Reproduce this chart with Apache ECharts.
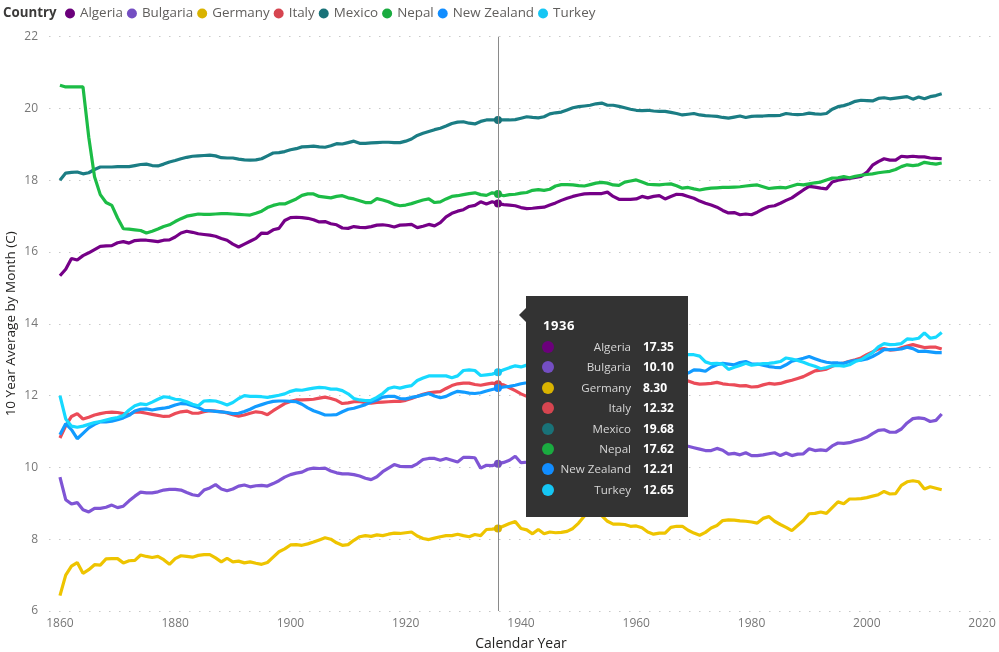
<!DOCTYPE html>
<html>
<head>
<meta charset="utf-8">
<script src="https://cdn.jsdelivr.net/npm/echarts@6/dist/echarts.min.js"></script>
<style>
html,body{margin:0;padding:0;background:#fff;}
#chart{width:999px;height:652px;}
</style>
</head>
<body>
<div id="chart"></div>
<script>
const firstYear = 1860;
const countries = ["Algeria","Bulgaria","Germany","Italy","Mexico","Nepal","New Zealand","Turkey"];
const colors = ["#6B007B","#744EC2","#D9B300","#D64550","#197278","#1AAB40","#118DFF","#15C6F4"];
const xTicks = [1860,1880,1900,1920,1940,1960,1980,2000,2020];
const highlightYear = 1936;

const algeria = [
15.34,15.52,15.82,15.78,15.90,15.98,16.07,16.16,16.17,16.18,
16.26,16.29,16.25,16.32,16.33,16.33,16.31,16.29,16.33,16.34,
16.42,16.53,16.58,16.55,16.51,16.49,16.47,16.44,16.38,16.33,
16.22,16.14,16.22,16.30,16.38,16.53,16.52,16.62,16.66,16.88,
16.96,16.97,16.96,16.94,16.90,16.84,16.85,16.79,16.76,16.67,
16.66,16.71,16.69,16.68,16.71,16.75,16.76,16.74,16.70,16.75,
16.76,16.77,16.68,16.72,16.77,16.73,16.82,16.98,17.08,17.14,
17.18,17.27,17.30,17.40,17.34,17.40,17.35,17.32,17.31,17.29,
17.24,17.21,17.22,17.24,17.25,17.31,17.37,17.44,17.50,17.55,
17.59,17.62,17.63,17.63,17.63,17.67,17.55,17.47,17.47,17.47,
17.48,17.55,17.51,17.55,17.57,17.48,17.55,17.61,17.60,17.55,
17.50,17.42,17.36,17.31,17.25,17.16,17.09,17.10,17.04,17.06,
17.04,17.11,17.20,17.27,17.29,17.36,17.44,17.51,17.62,17.73,
17.83,17.81,17.78,17.76,17.95,18.00,18.03,18.05,18.08,18.11,
18.22,18.42,18.52,18.60,18.56,18.56,18.67,18.65,18.67,18.65,
18.65,18.62,18.61,18.60];

const bulgaria = [
9.73,9.10,8.98,9.02,8.82,8.76,8.86,8.86,8.89,8.95,
8.88,8.92,9.07,9.20,9.31,9.29,9.29,9.32,9.37,9.39,
9.39,9.37,9.30,9.24,9.21,9.37,9.43,9.52,9.40,9.35,
9.40,9.48,9.51,9.46,9.49,9.50,9.48,9.55,9.63,9.73,
9.80,9.84,9.87,9.95,9.98,9.97,9.98,9.90,9.85,9.82,
9.82,9.80,9.76,9.70,9.66,9.74,9.88,9.98,10.08,10.03,
10.02,10.02,10.10,10.22,10.25,10.25,10.20,10.25,10.20,10.15,
10.28,10.28,10.27,9.98,10.06,10.05,10.10,10.14,10.20,10.31,
10.13,10.15,10.20,10.25,10.20,10.30,10.35,10.30,10.40,10.45,
10.50,10.55,10.60,10.65,10.60,10.55,10.50,10.55,10.60,10.55,
10.50,10.55,10.60,10.65,10.60,10.55,10.60,10.65,10.60,10.59,
10.55,10.51,10.47,10.47,10.53,10.48,10.37,10.39,10.35,10.41,
10.33,10.33,10.35,10.38,10.41,10.33,10.40,10.33,10.37,10.38,
10.52,10.47,10.49,10.47,10.60,10.68,10.67,10.69,10.74,10.78,
10.84,10.94,11.03,11.05,10.98,10.98,11.07,11.24,11.36,11.38,
11.36,11.28,11.31,11.49];

const germany = [
6.43,7.00,7.25,7.35,7.05,7.15,7.29,7.28,7.45,7.46,
7.46,7.34,7.40,7.41,7.56,7.52,7.49,7.52,7.43,7.30,
7.46,7.54,7.52,7.50,7.55,7.57,7.57,7.48,7.37,7.47,
7.37,7.39,7.34,7.37,7.33,7.30,7.35,7.50,7.65,7.73,
7.84,7.85,7.83,7.87,7.92,7.98,8.04,8.00,7.90,7.83,
7.85,7.97,8.07,8.10,8.08,8.12,8.10,8.14,8.17,8.16,
8.18,8.20,8.09,8.02,7.99,8.03,8.07,8.10,8.10,8.14,
8.10,8.07,8.13,8.10,8.27,8.28,8.30,8.37,8.44,8.49,
8.30,8.26,8.15,8.27,8.15,8.20,8.18,8.19,8.22,8.30,
8.45,8.65,8.80,8.85,8.66,8.50,8.42,8.42,8.41,8.36,
8.37,8.32,8.20,8.14,8.17,8.17,8.33,8.36,8.36,8.25,
8.17,8.11,8.19,8.31,8.38,8.52,8.54,8.53,8.51,8.50,
8.48,8.45,8.58,8.63,8.50,8.41,8.33,8.24,8.38,8.52,
8.71,8.72,8.76,8.72,8.88,9.04,8.99,9.12,9.12,9.13,
9.16,9.20,9.24,9.33,9.26,9.27,9.50,9.60,9.63,9.60,
9.40,9.46,9.42,9.38];

const italy = [
10.82,11.16,11.42,11.50,11.35,11.40,11.46,11.50,11.53,11.54,
11.53,11.50,11.47,11.55,11.54,11.51,11.48,11.45,11.42,11.43,
11.50,11.55,11.57,11.51,11.51,11.55,11.58,11.57,11.55,11.52,
11.47,11.43,11.46,11.51,11.55,11.53,11.47,11.58,11.68,11.78,
11.84,11.88,11.88,11.89,11.90,11.93,11.96,11.92,11.87,11.78,
11.80,11.83,11.84,11.80,11.79,11.81,11.82,11.83,11.84,11.84,
11.87,11.92,11.98,12.04,12.08,12.10,12.11,12.20,12.28,12.33,
12.35,12.35,12.31,12.29,12.32,12.35,12.32,12.30,12.22,12.14,
12.05,11.98,11.95,11.98,12.03,12.08,12.13,12.18,12.24,12.28,
12.33,12.38,12.43,12.48,12.44,12.40,12.44,12.48,12.45,12.40,
12.44,12.48,12.45,12.40,12.36,12.40,12.44,12.42,12.40,12.41,
12.35,12.32,12.33,12.34,12.37,12.33,12.31,12.30,12.27,12.28,
12.24,12.25,12.30,12.34,12.32,12.34,12.39,12.43,12.48,12.53,
12.61,12.69,12.71,12.74,12.82,12.88,12.91,12.96,13.00,13.05,
13.14,13.22,13.30,13.31,13.27,13.28,13.33,13.38,13.42,13.38,
13.34,13.35,13.35,13.30];

const mexico = [
18.00,18.20,18.22,18.23,18.18,18.21,18.30,18.37,18.37,18.37,
18.38,18.38,18.38,18.41,18.44,18.45,18.41,18.40,18.45,18.51,
18.55,18.60,18.64,18.67,18.68,18.69,18.70,18.68,18.63,18.62,
18.62,18.59,18.57,18.56,18.57,18.60,18.68,18.76,18.77,18.80,
18.85,18.88,18.93,18.94,18.95,18.93,18.92,18.96,19.02,19.01,
19.05,19.09,19.03,19.03,19.04,19.05,19.06,19.06,19.05,19.05,
19.09,19.15,19.25,19.31,19.36,19.41,19.45,19.51,19.58,19.62,
19.63,19.59,19.57,19.64,19.68,19.68,19.68,19.68,19.68,19.69,
19.73,19.77,19.75,19.74,19.77,19.85,19.88,19.90,19.96,20.02,
20.05,20.07,20.09,20.13,20.15,20.09,20.09,20.06,20.02,19.98,
19.95,19.94,19.95,19.93,19.92,19.92,19.89,19.86,19.82,19.84,
19.86,19.82,19.80,19.79,19.78,19.75,19.73,19.76,19.79,19.75,
19.78,19.79,19.79,19.80,19.80,19.81,19.86,19.84,19.83,19.84,
19.87,19.85,19.84,19.86,19.98,20.05,20.08,20.13,20.20,20.23,
20.22,20.21,20.28,20.30,20.27,20.29,20.31,20.33,20.26,20.32,
20.27,20.33,20.36,20.41];

const nepal = [
20.65,20.60,20.60,20.60,20.60,19.20,18.10,17.60,17.38,17.30,
16.95,16.65,16.64,16.62,16.60,16.53,16.58,16.64,16.71,16.76,
16.85,16.93,17.00,17.03,17.06,17.05,17.05,17.06,17.07,17.07,
17.06,17.05,17.04,17.03,17.08,17.14,17.24,17.30,17.34,17.34,
17.41,17.48,17.58,17.62,17.62,17.55,17.53,17.51,17.55,17.57,
17.51,17.48,17.43,17.38,17.38,17.49,17.45,17.40,17.33,17.29,
17.31,17.35,17.40,17.45,17.48,17.38,17.40,17.48,17.55,17.57,
17.60,17.63,17.65,17.60,17.58,17.65,17.62,17.57,17.60,17.61,
17.64,17.66,17.72,17.74,17.72,17.75,17.84,17.88,17.88,17.87,
17.85,17.84,17.88,17.92,17.94,17.92,17.87,17.86,17.95,17.98,
18.01,17.95,17.89,17.88,17.87,17.89,17.90,17.85,17.78,17.80,
17.76,17.73,17.76,17.78,17.79,17.80,17.80,17.81,17.82,17.84,
17.86,17.87,17.82,17.77,17.79,17.80,17.79,17.84,17.89,17.87,
17.90,17.93,17.95,18.01,18.06,18.07,18.10,18.07,18.11,18.14,
18.16,18.18,18.21,18.23,18.25,18.30,18.38,18.43,18.41,18.43,
18.50,18.47,18.45,18.48];

const newZealand = [
10.91,11.22,11.05,10.80,10.95,11.10,11.20,11.27,11.27,11.29,
11.33,11.38,11.45,11.57,11.62,11.63,11.60,11.63,11.65,11.68,
11.74,11.78,11.77,11.72,11.67,11.59,11.58,11.56,11.55,11.53,
11.50,11.51,11.56,11.62,11.70,11.75,11.80,11.84,11.85,11.85,
11.84,11.83,11.76,11.66,11.58,11.52,11.46,11.46,11.47,11.55,
11.62,11.65,11.70,11.75,11.82,11.88,11.96,11.98,11.98,11.92,
11.91,11.95,11.98,12.02,12.06,11.99,11.94,11.98,12.06,12.12,
12.10,12.07,12.06,12.08,12.13,12.17,12.21,12.24,12.26,12.29,
12.33,12.36,12.40,12.44,12.40,12.45,12.50,12.46,12.50,12.55,
12.50,12.46,12.50,12.55,12.60,12.55,12.50,12.55,12.60,12.56,
12.60,12.65,12.60,12.55,12.60,12.65,12.60,12.64,12.62,12.63,
12.72,12.71,12.68,12.79,12.86,12.90,12.88,12.86,12.92,12.95,
12.88,12.88,12.85,12.81,12.79,12.78,12.86,12.96,13.00,13.04,
13.09,13.03,12.97,12.93,12.91,12.91,12.90,12.95,12.98,12.99,
13.02,13.09,13.18,13.28,13.28,13.29,13.30,13.35,13.31,13.23,
13.24,13.22,13.20,13.20];

const turkey = [
12.00,11.35,11.15,11.12,11.15,11.20,11.25,11.28,11.32,11.36,
11.39,11.45,11.60,11.72,11.77,11.75,11.82,11.90,11.97,11.95,
11.90,11.88,11.83,11.76,11.72,11.85,11.86,11.85,11.80,11.74,
11.81,11.92,12.00,11.98,11.98,11.97,11.95,11.98,12.01,12.05,
12.12,12.16,12.15,12.18,12.21,12.23,12.22,12.18,12.18,12.14,
12.05,11.92,11.88,11.86,11.87,11.95,12.06,12.20,12.24,12.21,
12.25,12.28,12.42,12.49,12.55,12.55,12.55,12.55,12.50,12.55,
12.70,12.72,12.70,12.56,12.58,12.60,12.65,12.72,12.78,12.83,
12.80,12.85,12.90,12.86,12.90,12.95,13.00,12.96,13.04,13.10,
13.06,13.00,13.08,13.15,13.10,13.05,13.00,12.96,13.00,13.05,
13.02,13.06,13.10,13.05,13.02,13.06,13.10,13.15,13.14,13.14,
13.14,13.10,12.94,12.89,12.90,12.88,12.73,12.79,12.84,12.90,
12.85,12.87,12.89,12.90,12.92,12.95,13.05,13.02,12.98,12.93,
12.87,12.82,12.75,12.78,12.83,12.84,12.82,12.86,12.95,13.00,
13.10,13.20,13.36,13.45,13.42,13.43,13.45,13.58,13.57,13.60,
13.75,13.60,13.63,13.76];

const seriesValues = [algeria, bulgaria, germany, italy, mexico, nepal, newZealand, turkey];

const FONT = "'Open Sans', 'Noto Sans', sans-serif";
const chart = echarts.init(document.getElementById('chart'), null, {renderer: 'canvas'});

function tooltipHtml(params) {
  const year = params[0].value[0];
  let h = '<div style="position:relative;width:162px;height:221px;font-family:' + FONT.replace(/'/g, '&quot;') + ';">';
  h += '<div style="position:absolute;left:-7px;top:12px;width:0;height:0;border-top:7px solid transparent;border-bottom:7px solid transparent;border-right:7px solid #333;"></div>';
  h += '<div style="position:absolute;left:17px;top:21px;font-size:13px;line-height:16px;font-weight:bold;color:#fff;letter-spacing:0.6px;">' + year + '</div>';
  params.forEach(function (p, i) {
    const top = 41 + 20.4 * i;
    h += '<div style="position:absolute;left:0;top:' + top + 'px;width:162px;height:20px;line-height:20px;font-size:11.6px;">';
    h += '<span style="position:absolute;left:16px;top:4px;width:12px;height:12px;border-radius:6px;background:' + p.color + ';"></span>';
    h += '<span style="position:absolute;right:31px;top:0;width:120px;text-align:right;white-space:nowrap;color:#d6d6d6;margin-right:26px;">' + p.seriesName + '</span>';
    h += '<span style="position:absolute;left:117px;top:0;white-space:nowrap;color:#fff;font-weight:bold;font-size:12px;">' + p.value[1].toFixed(2) + '</span>';
    h += '</div>';
  });
  h += '</div>';
  return h;
}

const option = {
  animation: false,
  color: colors,
  textStyle: {fontFamily: FONT},
  title: {
    text: 'Country', left: 3, top: 7, padding: 0,
    textStyle: {fontSize: 13.3, fontWeight: 'bold', color: '#3b3a39', fontFamily: FONT}
  },
  legend: {
    left: 65, top: 7, padding: 0, icon: 'circle', itemWidth: 10, itemHeight: 10, itemGap: 4,
    textStyle: {fontSize: 13.4, color: '#605E5C', fontFamily: FONT},
    data: countries
  },
  grid: {left: 49, right: 6, top: 36.7, bottom: 41, containLabel: false, outerBoundsMode: 'none'},
  xAxis: {
    type: 'value', min: 1858.1, max: 2021.9,
    name: 'Calendar Year', nameLocation: 'middle', nameGap: 26, nameMoveOverlap: false,
    nameTextStyle: {fontSize: 14, color: '#252423', fontFamily: FONT},
    axisLine: {show: false}, axisTick: {show: false}, splitLine: {show: false},
    axisLabel: {customValues: xTicks, fontSize: 12, color: '#777', margin: 7, fontFamily: FONT, formatter: function (v) { return String(v); }}
  },
  yAxis: {
    type: 'value', min: 6, max: 22, interval: 2,
    name: '10 Year Average by Month (C)', nameLocation: 'middle', nameGap: 31, nameMoveOverlap: false,
    nameTextStyle: {fontSize: 13.5, color: '#252423', fontFamily: FONT},
    axisLine: {show: false}, axisTick: {show: false},
    axisLabel: {fontSize: 12, color: '#777', margin: 11, fontFamily: FONT},
    splitLine: {lineStyle: {color: '#c8c8c8', width: 1, type: [1.5, 8.5]}}
  },
  tooltip: {
    trigger: 'axis', triggerOn: 'none', alwaysShowContent: true, transitionDuration: 0,
    backgroundColor: '#333333', borderWidth: 0, padding: 0,
    extraCssText: 'box-shadow:none;border-radius:0;',
    position: function () { return [526, 296]; },
    axisPointer: {type: 'line', lineStyle: {color: '#8a8a8a', width: 1, type: 'solid'}, label: {show: false}},
    formatter: tooltipHtml
  },
  series: countries.map(function (name, si) {
    return {
      name: name, type: 'line', showSymbol: false, symbol: 'circle', symbolSize: 8,
      lineStyle: {width: 3.2, color: colors[si]},
      itemStyle: {color: colors[si]},
      emphasis: {focus: 'none', scale: false, lineStyle: {width: 3.2}},
      data: seriesValues[si].map(function (v, i) { return [firstYear + i, v]; })
    };
  })
};
chart.setOption(option);

function showHover() {
  chart.dispatchAction({type: 'showTip', seriesIndex: 0, dataIndex: highlightYear - firstYear});
}
showHover();
setTimeout(showHover, 50);
</script>
</body>
</html>
